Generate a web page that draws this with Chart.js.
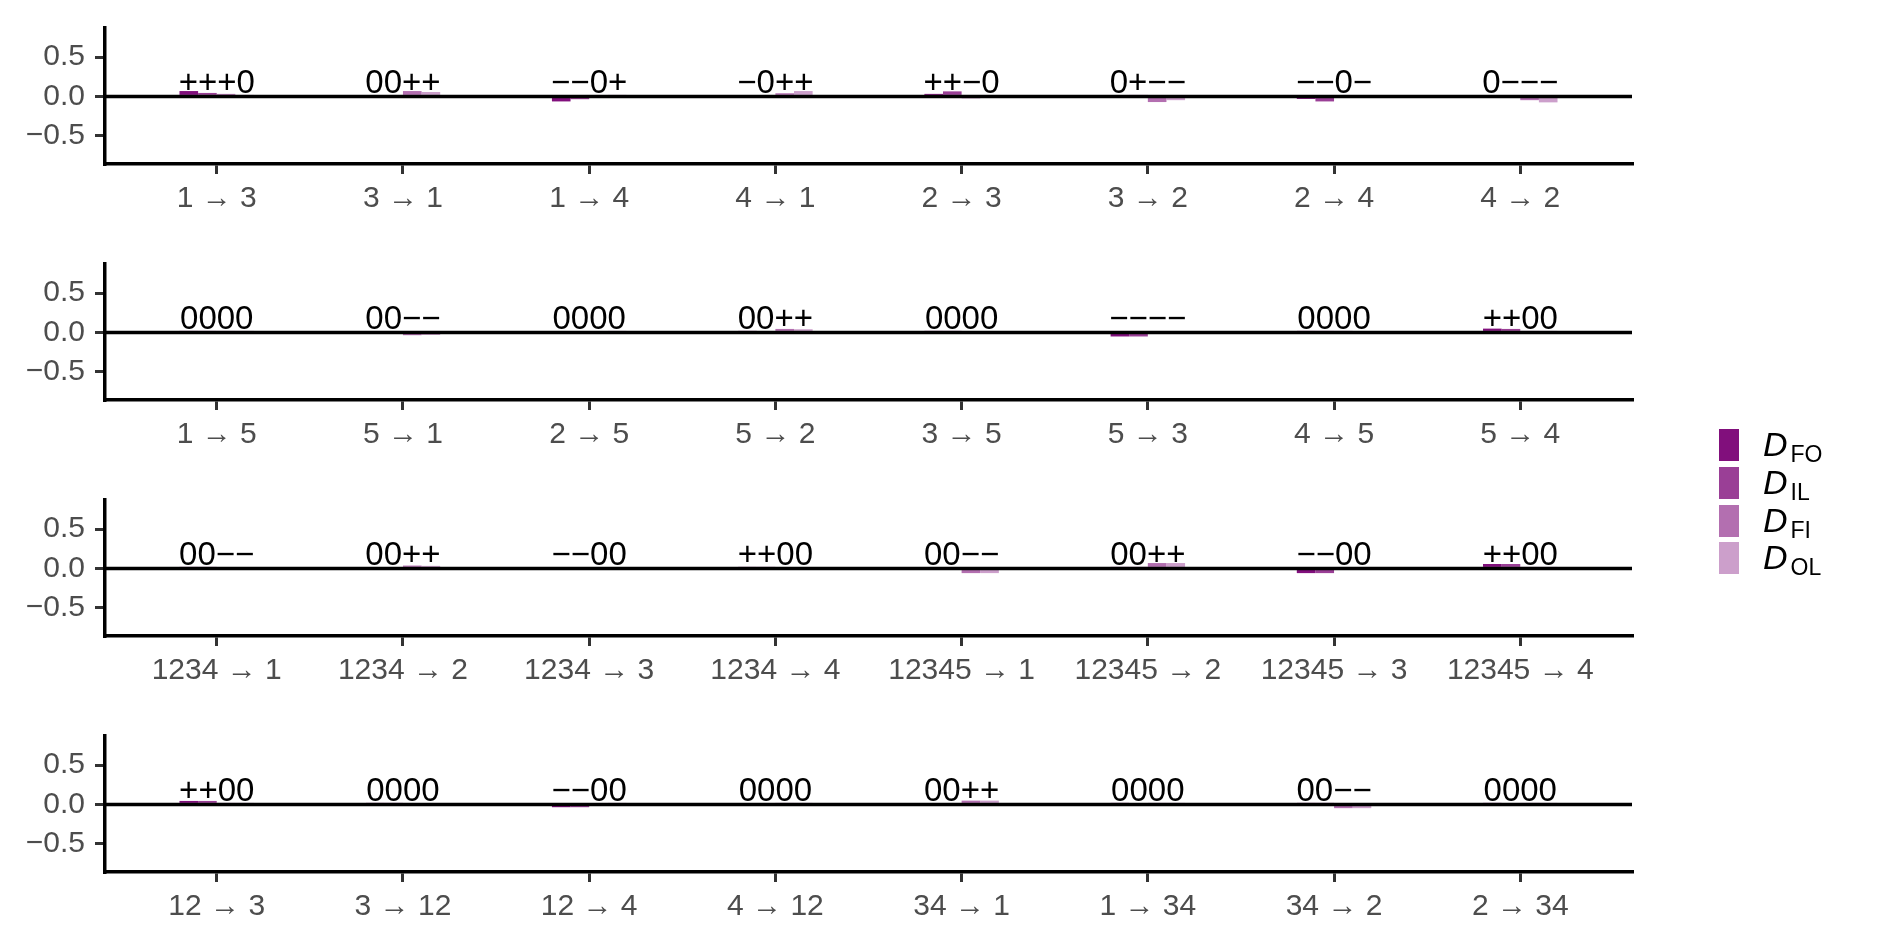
<!DOCTYPE html>
<html><head><meta charset="utf-8">
<script src="https://cdn.jsdelivr.net/npm/chart.js@4/dist/chart.umd.min.js"></script>
<style>
html,body{margin:0;padding:0;background:#fff;width:1889px;height:944px;overflow:hidden;}
.panel{position:absolute;left:0;width:1889px;height:236px;}
.panel canvas{display:block;}
.sw{position:absolute;left:1719px;width:20px;height:32px;}
.lt{position:absolute;left:1763px;font-family:"Liberation Sans",Arial,sans-serif;font-style:italic;font-size:34px;line-height:34px;color:#000;white-space:nowrap;}
.lt span{font-style:normal;font-size:23px;position:relative;top:6px;margin-left:3px;}
</style></head><body>
<div class="panel" style="top:0px"><canvas id="c0" width="1889" height="236"></canvas></div>
<div class="panel" style="top:236px"><canvas id="c1" width="1889" height="236"></canvas></div>
<div class="panel" style="top:472px"><canvas id="c2" width="1889" height="236"></canvas></div>
<div class="panel" style="top:708px"><canvas id="c3" width="1889" height="236"></canvas></div>
<div id="legend"></div>
<script>
// ---- data ----
const seriesNames = ['FO', 'IL', 'FI', 'OL'];
const seriesColors = ['#810F7C', '#9A3F96', '#B36FB0', '#CC9FCB'];
const yTicks = [-0.5, 0, 0.5];

const cats1 = ['1 → 3','3 → 1','1 → 4','4 → 1','2 → 3','3 → 2','2 → 4','4 → 2'];
const signs1 = ['+++0','00++','−−0+','−0++','++−0','0+−−','−−0−','0−−−'];
const FO1 = [0.068, -0.003, -0.064, -0.012, 0.032, 0.0, -0.032, 0.0];
const IL1 = [0.044, 0.0, -0.036, 0.0, 0.064, 0.02, -0.064, -0.016];
const FI1 = [0.032, 0.068, 0.0, 0.04, -0.024, -0.072, 0.0, -0.048];
const OL1 = [0.004, 0.056, 0.006, 0.068, 0.0, -0.048, -0.012, -0.076];

const cats2 = ['1 → 5','5 → 1','2 → 5','5 → 2','3 → 5','5 → 3','4 → 5','5 → 4'];
const signs2 = ['0000','00−−','0000','00++','0000','−−−−','0000','++00'];
const FO2 = [0.004, 0.0, 0.0, 0.004, 0.004, -0.052, 0.004, 0.048];
const IL2 = [0.004, 0.0, 0.0, 0.0, 0.004, -0.052, 0.004, 0.044];
const FI2 = [0.004, -0.036, 0.0, 0.044, 0.0, -0.004, 0.004, 0.004];
const OL2 = [0.004, -0.032, 0.004, 0.04, 0.0, -0.004, 0.0, 0.004];

const cats3 = ['1234 → 1','1234 → 2','1234 → 3','1234 → 4','12345 → 1','12345 → 2','12345 → 3','12345 → 4'];
const signs3 = ['00−−','00++','−−00','++00','00−−','00++','−−00','++00'];
const FO3 = [0.004, 0.0, -0.01, 0.016, 0.0, 0.004, -0.06, 0.056];
const IL3 = [0.004, 0.0, -0.01, 0.016, 0.0, 0.004, -0.06, 0.056];
const FI3 = [-0.02, 0.036, -0.004, 0.0, -0.06, 0.068, -0.004, 0.004];
const OL3 = [-0.02, 0.032, -0.004, 0.0, -0.06, 0.068, -0.004, 0.004];

const cats4 = ['12 → 3','3 → 12','12 → 4','4 → 12','34 → 1','1 → 34','34 → 2','2 → 34'];
const signs4 = ['++00','0000','−−00','0000','00++','0000','00−−','0000'];
const FO4 = [0.044, 0.004, -0.036, 0.0, 0.0, 0.004, 0.004, 0.004];
const IL4 = [0.044, 0.004, -0.036, 0.0, 0.0, 0.0, 0.004, 0.0];
const FI4 = [0.004, 0.0, 0.0, 0.004, 0.048, 0.004, -0.048, 0.004];
const OL4 = [0.004, 0.0, 0.004, 0.004, 0.048, 0.004, -0.048, 0.004];

const panels = [
  {cats: cats1, signs: signs1, series: [FO1, IL1, FI1, OL1]},
  {cats: cats2, signs: signs2, series: [FO2, IL2, FI2, OL2]},
  {cats: cats3, signs: signs3, series: [FO3, IL3, FI3, OL3]},
  {cats: cats4, signs: signs4, series: [FO4, IL4, FI4, OL4]}
];

const FONT = '"Liberation Sans", Arial, sans-serif';

const overlayPlugin = {
  id: 'overlay',
  afterDatasetsDraw(chart, args, opts) {
    const {ctx, chartArea, scales} = chart;
    const y0 = scales.y.getPixelForValue(0);
    ctx.save();
    ctx.strokeStyle = '#000';
    ctx.lineWidth = 3.5;
    ctx.beginPath();
    ctx.moveTo(chartArea.left, y0);
    ctx.lineTo(chartArea.right, y0);
    ctx.stroke();
    ctx.fillStyle = '#000';
    ctx.font = '33px ' + FONT;
    ctx.textAlign = 'center';
    ctx.textBaseline = 'alphabetic';
    opts.signs.forEach((s, i) => {
      ctx.fillText(s, scales.x.getPixelForValue(i), y0 - 3);
    });
    ctx.restore();
  }
};

panels.forEach((p, k) => {
  const datasets = p.series.map((vals, j) => ({
    label: 'D' + seriesNames[j],
    data: vals.map((v, i) => ({x: i, y: v})),
    backgroundColor: seriesColors[j],
    borderWidth: 0,
    categoryPercentage: 0.4,
    barPercentage: 1.0
  }));
  new Chart(document.getElementById('c' + k), {
    type: 'bar',
    data: {datasets},
    plugins: [overlayPlugin],
    options: {
      responsive: false,
      animation: false,
      devicePixelRatio: 1,
      layout: {padding: {left: 0, right: 257, top: 20, bottom: 0}},
      plugins: {
        legend: {display: false},
        tooltip: {enabled: false},
        overlay: {signs: p.signs}
      },
      scales: {
        x: {
          type: 'linear',
          min: -0.6, max: 7.6,
          offset: false,
          afterBuildTicks: s => { s.ticks = p.cats.map((_, i) => ({value: i})); },
          afterFit: s => { s.height = 72; },
          ticks: {
            callback: v => p.cats[Math.round(v)],
            font: {family: FONT, size: 30},
            color: '#4D4D4D',
            padding: 7,
            maxRotation: 0,
            autoSkip: false
          },
          grid: {display: true, offset: false, drawOnChartArea: false, drawTicks: true, tickLength: 10, color: '#333333', lineWidth: 3},
          border: {display: true, color: '#000', width: 3.5}
        },
        y: {
          min: -0.86, max: 0.87,
          afterBuildTicks: s => { s.ticks = yTicks.map(v => ({value: v})); },
          afterFit: s => { s.width = 105; },
          ticks: {
            callback: v => (v < 0 ? '−' : '') + Math.abs(v).toFixed(1),
            font: {family: FONT, size: 30},
            color: '#4D4D4D',
            padding: 10
          },
          grid: {display: true, drawOnChartArea: false, drawTicks: true, tickLength: 10, color: '#333333', lineWidth: 3},
          border: {display: true, color: '#000', width: 3.5}
        }
      }
    }
  });
});

// legend
const legTops = [429, 467, 504.5, 542];
const leg = document.getElementById('legend');
seriesNames.forEach((n, j) => {
  const sw = document.createElement('div');
  sw.className = 'sw';
  sw.style.top = legTops[j] + 'px';
  sw.style.background = seriesColors[j];
  leg.appendChild(sw);
  const t = document.createElement('div');
  t.className = 'lt';
  t.style.top = (legTops[j] + 26 - 28) + 'px';
  t.innerHTML = 'D<span>' + n + '</span>';
  leg.appendChild(t);
});
</script>
</body></html>
